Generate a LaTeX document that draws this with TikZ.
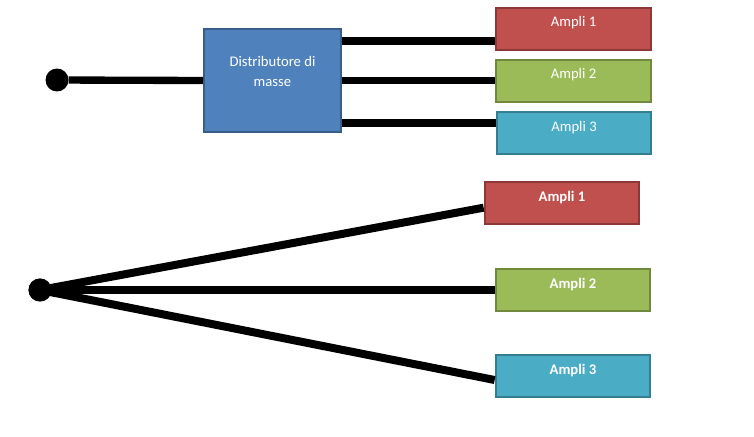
\documentclass[tikz,border=0pt]{standalone}
\usepackage{fontspec}
\setmainfont{Carlito}
\usepackage{xcolor}
\usepackage{tikz}
\usetikzlibrary{calc}
\definecolor{amplired}{HTML}{C0504D}
\definecolor{amplireddark}{HTML}{8C3836}
\definecolor{ampligreen}{HTML}{9BBB59}
\definecolor{ampligreendark}{HTML}{71893F}
\definecolor{amplicyan}{HTML}{4BACC6}
\definecolor{amplicyandark}{HTML}{357D91}
\definecolor{distblue}{HTML}{4F81BD}
\definecolor{distbluedark}{HTML}{385D8A}

\begin{document}
\begin{tikzpicture}[
			x=0.75pt, y=-0.75pt,
			ampli/.style={rectangle, line width=1.5pt, minimum width=116pt, minimum height=31.5pt, text=white, font=\fontsize{11}{13}\selectfont, text height=7pt, text depth=9.8pt},
			distbox/.style={rectangle, line width=1.5pt, minimum width=102.75pt, minimum height=77.25pt, text=white, align=center, font=\fontsize{11}{15}\selectfont, text height=20pt, text depth=10.8pt},
			wire/.style={line width=5.5pt, draw=black},
			dot/.style={circle, fill=black, minimum size=17.2pt, inner sep=0pt}
		]
		\useasboundingbox (0,0) rectangle (754,436);
		
		% With distributor
		\node[dot] (src) at (57,80) {};
		\node[distbox, fill=distblue, draw=distbluedark] (dist) at (272.5,80.5) {Distributore di\\masse};
		\node[ampli, fill=amplired, draw=amplireddark] (a1) at (573.5,28.5) {Ampli 1};
		\node[ampli, fill=ampligreen, draw=ampligreendark] (a2) at (573.5,80.5) {Ampli 2};
		\node[ampli, fill=amplicyan, draw=amplicyandark] (a3) at (574,133) {Ampli 3};
		
		\draw[wire] (src) -- (dist.west);
		\draw[wire] ([yshift=29.6pt]dist.east) coordinate (d1) -- (d1 -| a1.west);
		\draw[wire] (dist.east) coordinate (d2) -- (d2 -| a2.west);
		\draw[wire] ([yshift=-31.9pt]dist.east) coordinate (d3) -- (d3 -| a3.west);
		
		% Without distributor
		\node[dot] (star) at (40,290) {};
		\node[ampli, fill=amplired, draw=amplireddark, font=\fontsize{11}{13}\selectfont\bfseries] (b1) at (562,203) {Ampli 1};
		\node[ampli, fill=ampligreen, draw=ampligreendark, font=\fontsize{11}{13}\selectfont\bfseries] (b2) at (573,290) {Ampli 2};
		\node[ampli, fill=amplicyan, draw=amplicyandark, font=\fontsize{11}{13}\selectfont\bfseries] (b3) at (573,376) {Ampli 3};
		
		\draw[wire, line width=6pt] (star.center) -- ([yshift=-3.5pt]b1.west);
		\draw[wire, line width=6pt] (star.center) -- (b2.west);
		\draw[wire, line width=6pt] (star.center) -- ([yshift=-3pt]b3.west);
		\node[dot] at (star) {};
		\end{tikzpicture}
\end{document}
